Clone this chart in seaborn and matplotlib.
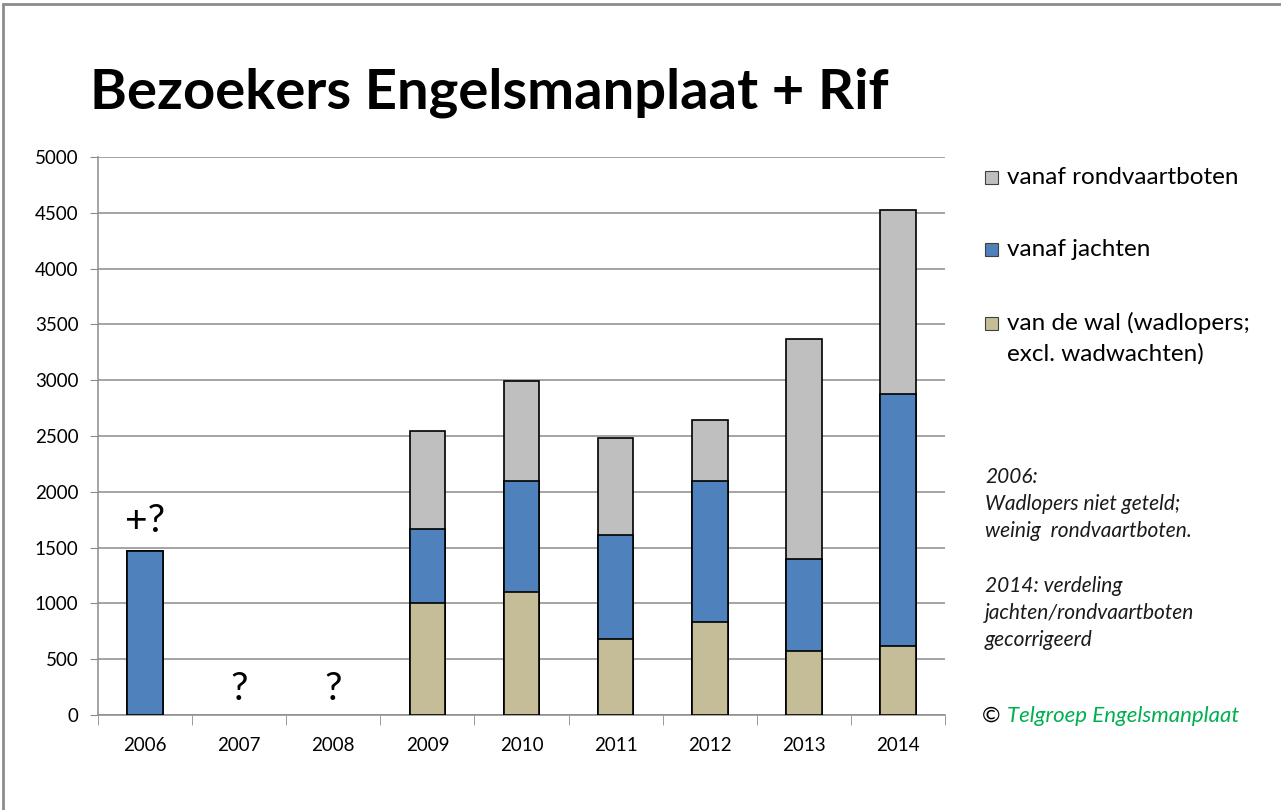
import numpy as np
import pandas as pd
import matplotlib.pyplot as plt
import matplotlib.patches as mpatches
from matplotlib.lines import Line2D
import seaborn as sns

# Data
years = ['2006', '2007', '2008', '2009', '2010', '2011', '2012', '2013', '2014']
wal = [np.nan, np.nan, np.nan, 1000, 1105, 680, 830, 575, 615]
jachten = [1470, np.nan, np.nan, 665, 995, 935, 1270, 825, 2260]
rondvaart = [0, np.nan, np.nan, 880, 890, 870, 540, 1965, 1650]

labels = ['vanaf rondvaartboten', 'vanaf jachten', 'van de wal (wadlopers;\nexcl. wadwachten)']
colors = ['#BFBFBF', '#4F81BD', '#C4BD97']

df = pd.DataFrame({'year': years, 'wal': wal, 'jachten': jachten, 'rondvaart': rondvaart})
df['c_wal'] = df['wal']
df['c_jacht'] = df['wal'].fillna(0) + df['jachten']
df['c_total'] = df['c_jacht'] + df['rondvaart']

sns.set_style('white')
plt.rcParams['font.family'] = ['Lato', 'DejaVu Sans']
plt.rcParams['text.color'] = 'black'

fig = plt.figure(figsize=(12.81, 8.10), dpi=100)
ax = fig.add_axes([98 / 1281, 1 - 715 / 810, 847 / 1281, 558 / 810])

# stacked bars drawn as cumulative layers, tallest first
for col, c in zip(['c_total', 'c_jacht', 'c_wal'], colors):
    sns.barplot(data=df, x='year', y=col, order=years, color=c, width=0.38,
                errorbar=None, edgecolor='black', linewidth=1.2, saturation=1, ax=ax, zorder=3)

ax.set_ylim(0, 5000)
ax.set_xlim(-0.5, 8.5)
ax.set_yticks(range(0, 5001, 500))
ax.grid(axis='y', color='#8C8C8C', linewidth=1.1, zorder=0)
ax.set_axisbelow(True)
ax.set_xlabel('')
ax.set_ylabel('')
for s in ['top', 'right']:
    ax.spines[s].set_visible(False)
for s in ['left', 'bottom']:
    ax.spines[s].set_color('#8C8C8C')
    ax.spines[s].set_linewidth(1.1)
ax.tick_params(axis='y', which='major', length=6, color='#8C8C8C', labelsize=13.5, pad=8,
               left=True, labelcolor='black')
ax.set_xticks(range(9))
ax.set_xticklabels(years)
ax.set_xticks(np.arange(-0.5, 9, 1), minor=True)
ax.tick_params(axis='x', which='major', length=0, labelsize=13.5, pad=16, labelcolor='black')
ax.tick_params(axis='x', which='minor', length=7, color='#8C8C8C', bottom=True)

# question marks
ax.text(0, 1580, '+?', ha='center', va='bottom', fontsize=28)
ax.text(1, 70, '?', ha='center', va='bottom', fontsize=28)
ax.text(2, 70, '?', ha='center', va='bottom', fontsize=28)

# title
fig.text(90 / 1281, 1 - 108 / 810, 'Bezoekers Engelsmanplaat + Rif', fontsize=40.5,
         fontweight='bold', ha='left', va='baseline', color='black')

# legend (drawn by hand to match spacing)
leg_y = [177, 249, 338.5]
for lab, c, y in zip(labels, colors, leg_y):
    sq_y = y if '\n' not in lab else 323
    fig.add_artist(mpatches.Rectangle((985 / 1281, 1 - (sq_y + 6.5) / 810), 13 / 1281, 13 / 810,
                                      facecolor=c, edgecolor='#404040', linewidth=0.8,
                                      transform=fig.transFigure))
    fig.text(1007 / 1281, 1 - y / 810, lab, fontsize=17.5, ha='left', va='center',
             linespacing=1.52, color='black')

# notes
note = '2006:\nWadlopers niet geteld;\nweinig  rondvaartboten.\n\n2014: verdeling\njachten/rondvaartboten\ngecorrigeerd'
fig.text(985 / 1281, 1 - 467 / 810, note, fontsize=15, style='italic', ha='left', va='top',
         linespacing=1.45, color='#1a1a1a')
fig.text(982 / 1281, 1 - 716 / 810, '©', fontsize=16, ha='left', va='center')
fig.text(1007 / 1281, 1 - 716 / 810, 'Telgroep Engelsmanplaat', fontsize=16, style='italic',
         color='#00B050', ha='left', va='center')

# outer frame (top and left)
fig.add_artist(Line2D([3 / 1281, 3 / 1281], [0, 1 - 4 / 810], color='#8C8C8C', linewidth=2))
fig.add_artist(Line2D([3 / 1281, 1], [1 - 4 / 810, 1 - 4 / 810], color='#8C8C8C', linewidth=2))

fig.savefig('out.png', dpi=100, facecolor='white')
